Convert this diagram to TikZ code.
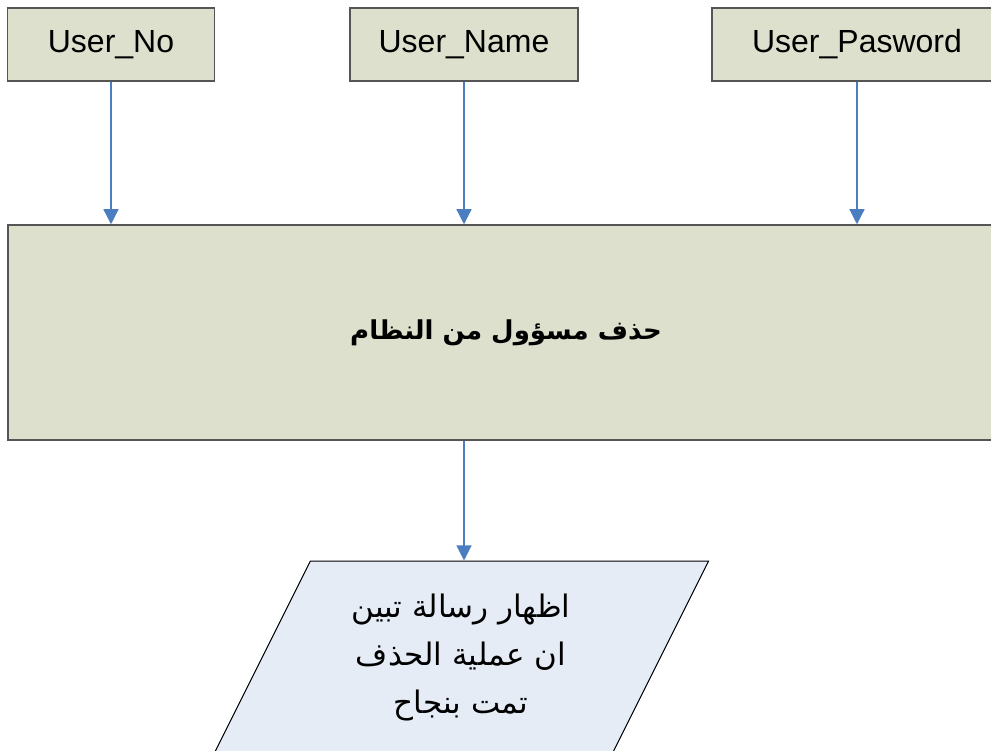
\documentclass[tikz,border=0pt]{standalone}
\usepackage{fontspec}
\setmainfont{Liberation Sans}
\newfontfamily\arabicfont[Script=Arabic]{DejaVu Sans}
\TeXXeTstate=1
\usetikzlibrary{arrows.meta,shapes.geometric}

\definecolor{boxfill}{RGB}{221,224,204}
\definecolor{outfill}{RGB}{230,236,246}
\definecolor{flowblue}{RGB}{74,126,193}
\definecolor{edgegray}{RGB}{85,85,85}

\tikzset{
  field/.style={draw=edgegray,fill=boxfill,line width=1.5pt,inner sep=0pt,
    minimum height=73pt,font=\fontsize{32}{36}\selectfont},
  process/.style={draw=edgegray,fill=boxfill,line width=1.5pt,inner sep=0pt,
    minimum width=996pt,minimum height=215pt,
    font=\arabicfont\bfseries\fontsize{26}{32}\selectfont},
  output/.style={draw=black,fill=outfill,line width=1pt,inner sep=0pt,
    shape=trapezium,trapezium left angle=61,trapezium right angle=119,
    trapezium stretches=true,minimum width=498pt,minimum height=194pt,
    align=center,font=\arabicfont\fontsize{31}{48}\selectfont},
  flow/.style={draw=flowblue,line width=1.2pt,-{Triangle[length=15pt,width=15pt]}}
}

\begin{document}
\begin{tikzpicture}[x=1pt,y=-1pt]
  \clip (0,0) rectangle (991,751);

% input fields
  \node[field,minimum width=207pt] (no)   at (111,44.5) {User\_No};
  \node[field,minimum width=228pt] (name) at (464,44.5) {User\_Name};
  \node[field,minimum width=290pt] (pass) at (857,44.5) {User\_Pasword};

% delete step
  \node[process] (del) at (506,332.5) {\beginR حذف مسؤول من النظام\endR};

% message
  \node[output] (msg) at (461,658)
    {\beginR اظهار رسالة تبين\endR\\ \beginR ان عملية الحذف\endR\\ \beginR تمت بنجاح\endR};

% connectors
  \draw[flow] (no)   -- (no |- del.north);
  \draw[flow] (name) -- (name |- del.north);
  \draw[flow] (pass) -- (pass |- del.north);
  \draw[flow] (del.south -| name) -- (msg.north -| name);
\end{tikzpicture}
\end{document}
